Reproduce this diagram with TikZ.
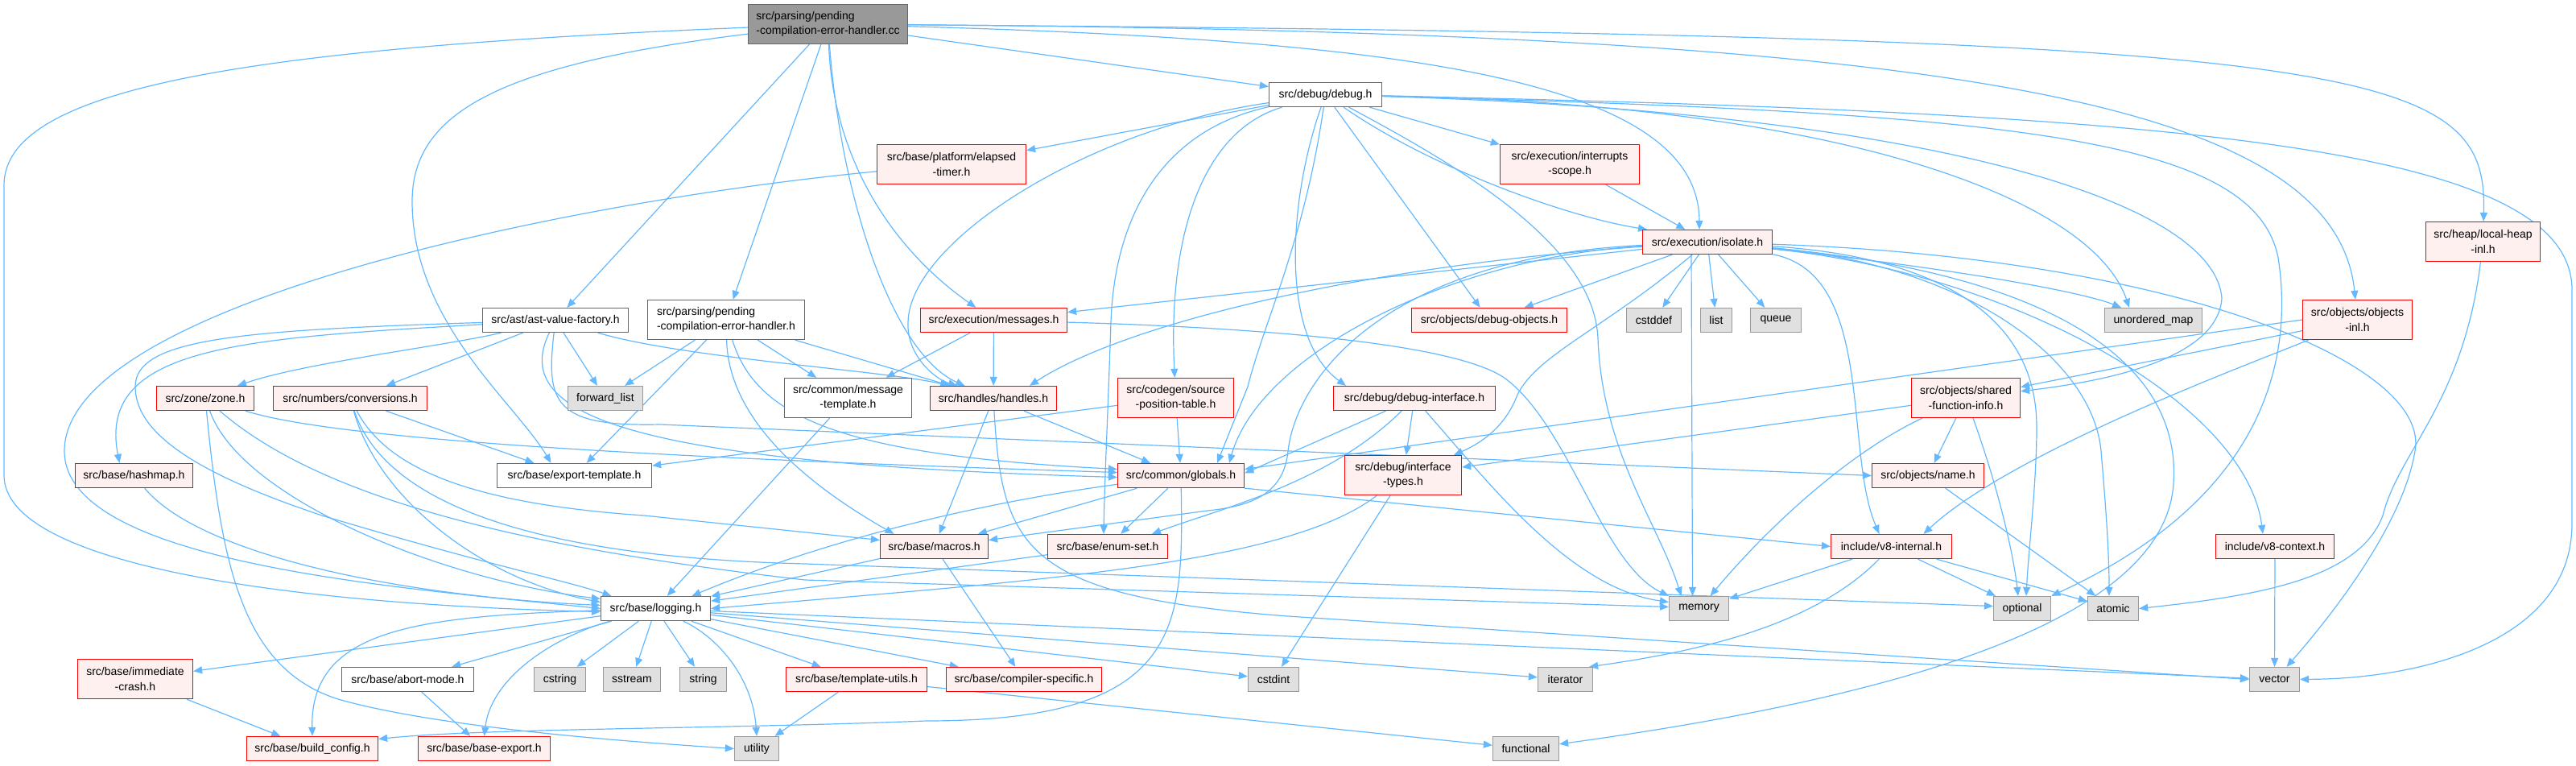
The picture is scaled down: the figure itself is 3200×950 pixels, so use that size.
\documentclass[tikz,border=0pt]{standalone}
\usepackage{fontspec}
\setmainfont{Liberation Sans}
\usetikzlibrary{arrows.meta}
\pgfdeclarelayer{edges}
\pgfsetlayers{edges,main}
\definecolor{edgec}{HTML}{63B8FF}
\definecolor{rfill}{HTML}{FFF0F0}
\definecolor{redb}{HTML}{FF0000}
\definecolor{gfill}{HTML}{E0E0E0}
\definecolor{gbord}{HTML}{999999}
\definecolor{wbord}{HTML}{666666}
\definecolor{rootfill}{HTML}{999999}
\begin{document}
\begin{tikzpicture}[x=1pt,y=-1pt,
 base/.style={draw,line width=1.3pt,inner sep=0pt,minimum height=30,font=\fontsize{14}{18.7}\selectfont,text=black},
 rnode/.style={base,draw=redb,fill=rfill},
 wnode/.style={base,draw=wbord,fill=white},
 gnode/.style={base,draw=gbord,fill=gfill},
 rootnode/.style={base,draw=wbord,fill=rootfill},
 tall/.style={minimum height=49},
 e/.style={draw=edgec,line width=1.2pt,-{Triangle[length=11pt,width=9pt]}}]
\useasboundingbox (0,0) rectangle (3200,950);

% ---------------- nodes ----------------
\node[rootnode,tall,minimum width=198,align=left] (R) at (1028.5,30) {src/parsing/pending\\-compilation-error-handler.cc};
\node[wnode,minimum width=140] (D) at (1646.5,117.5) {src/debug/debug.h};
\node[rnode,tall,minimum width=185,align=center] (ET) at (1182,204) {src/base/platform/elapsed\\-timer.h};
\node[rnode,tall,minimum width=173,align=center] (IS) at (1950,204) {src/execution/interrupts\\-scope.h};
\node[rnode,minimum width=161] (ISO) at (2121,300.5) {src/execution/isolate.h};
\node[rnode,tall,minimum width=142,align=center] (LH) at (3084.5,300) {src/heap/local-heap\\-inl.h};

\node[wnode,minimum width=181] (AST) at (690,397.5) {src/ast/ast-value-factory.h};
\node[wnode,tall,minimum width=195,align=left] (PEH) at (902,397) {src/parsing/pending\\-compilation-error-handler.h};
\node[rnode,minimum width=182] (MSG) at (1234.5,397.5) {src/execution/messages.h};
\node[rnode,minimum width=193] (DO) at (1850,397.5) {src/objects/debug-objects.h};
\node[gnode,minimum width=68] (CSTDDEF) at (2054.5,397.5) {cstddef};
\node[gnode,minimum width=39] (LIST) at (2132,397.5) {list};
\node[gnode,minimum width=63] (QUEUE) at (2206,397.5) {queue};
\node[gnode,minimum width=121] (UMAP) at (2675,397.5) {unordered\_map};
\node[rnode,tall,minimum width=136,align=center] (OI) at (2928.5,397) {src/objects/objects\\-inl.h};

\node[rnode,minimum width=121] (ZONE) at (255,494.5) {src/zone/zone.h};
\node[rnode,minimum width=191] (CONV) at (435,494.5) {src/numbers/conversions.h};
\node[gnode,minimum width=93] (FL) at (752,494.5) {forward\_list};
\node[wnode,tall,minimum width=158,align=center] (MT) at (1053.5,494) {src/common/message\\-template.h};
\node[rnode,minimum width=157] (HND) at (1234,494.5) {src/handles/handles.h};
\node[rnode,tall,minimum width=144,align=center] (SPT) at (1460.5,494) {src/codegen/source\\-position-table.h};
\node[rnode,minimum width=201] (DI) at (1757,494.5) {src/debug/debug-interface.h};
\node[rnode,tall,minimum width=135,align=center] (SFI) at (2442,494) {src/objects/shared\\-function-info.h};

\node[rnode,minimum width=146] (HM) at (166.5,590.5) {src/base/hashmap.h};
\node[wnode,minimum width=192] (EXT) at (713.5,590.5) {src/base/export-template.h};
\node[rnode,minimum width=157] (GLB) at (1467,590.5) {src/common/globals.h};
\node[rnode,tall,minimum width=145,align=center] (IT) at (1743,590) {src/debug/interface\\-types.h};
\node[rnode,minimum width=139] (NAME) at (2395,590.5) {src/objects/name.h};

\node[rnode,minimum width=134] (MAC) at (1160.5,678.5) {src/base/macros.h};
\node[rnode,minimum width=149] (ES) at (1376,678.5) {src/base/enum-set.h};
\node[rnode,minimum width=150] (V8I) at (2349.5,678.5) {include/v8-internal.h};
\node[rnode,minimum width=147] (V8C) at (2826,678.5) {include/v8-context.h};

\node[wnode,minimum width=136] (LOG) at (814.5,755.5) {src/base/logging.h};
\node[gnode,minimum width=74] (MEM) at (2110.5,755.5) {memory};
\node[gnode,minimum width=71] (OPT) at (2512,755.5) {optional};
\node[gnode,minimum width=63] (ATOM) at (2625,755.5) {atomic};

\node[rnode,tall,minimum width=143,align=center] (IC) at (168,843) {src/base/immediate\\-crash.h};
\node[wnode,minimum width=164] (AM) at (506.5,843.5) {src/base/abort-mode.h};
\node[gnode,minimum width=64] (CSTRING) at (695.5,843.5) {cstring};
\node[gnode,minimum width=71] (SSTREAM) at (785,843.5) {sstream};
\node[gnode,minimum width=58] (STRING) at (873.5,843.5) {string};
\node[rnode,minimum width=175] (TU) at (1064,843.5) {src/base/template-utils.h};
\node[rnode,minimum width=193] (CS) at (1272,843.5) {src/base/compiler-specific.h};
\node[gnode,minimum width=63] (CSTDINT) at (1582,843.5) {cstdint};
\node[gnode,minimum width=68] (ITER) at (1944.5,843.5) {iterator};
\node[gnode,minimum width=62] (VEC) at (2825.5,843.5) {vector};

\node[rnode,minimum width=163] (BC) at (388,929.5) {src/base/build\_config.h};
\node[rnode,minimum width=164] (BE) at (601.5,929.5) {src/base/base-export.h};
\node[gnode,minimum width=55] (UTIL) at (940,929.5) {utility};
\node[gnode,minimum width=82] (FUNC) at (1895.5,929.5) {functional};

% ---------------- edges ----------------
\begin{pgfonlayer}{edges}
% root
\draw[e] (R) -- (D);
\draw[e] (R) -- (AST);
\draw[e] (R) -- (PEH);
\draw[e] (R) .. controls (1035,200) and (1110,310) .. (MSG);
\draw[e] (R) .. controls (1045,250) and (1110,440) .. (HND);
\draw[e] (R) .. controls (1750,50) and (2110,100) .. ([xshift=-10]ISO.north);
\draw[e] (R) .. controls (2950,45) and (3090,80) .. (LH);
\draw[e] (R) .. controls (2400,40) and (2900,120) .. (OI);
\draw[e] (R) .. controls (620,80) and (512,140) .. (512,250) .. controls (512,400) and (640,500) .. ([xshift=-29]EXT.north);
\draw[e] (R) .. controls (300,60) and (5,110) .. (5,230) -- (5,590) .. controls (5,700) and (350,750) .. ([yshift=-4]LOG.west);
% debug.h
\draw[e] (D) -- (ET);
\draw[e] (D) -- (IS);
\draw[e] (D) .. controls (1780,210) and (1950,270) .. ([xshift=-75]ISO.north);
\draw[e] (D) -- (DO);
\draw[e] (D) .. controls (1600,250) and (1590,420) .. ([xshift=-85]DI.north);
\draw[e] (D) .. controls (1500,160) and (1450,280) .. (SPT);
\draw[e] (D) .. controls (1620,300) and (1570,400) .. (1550,480) -- ([xshift=45]GLB.north);
\draw[e] (D) .. controls (1450,160) and (1385,260) .. (1380,400) .. controls (1376,520) and (1372,600) .. ([xshift=-5]ES.north);
\draw[e] (D) .. controls (1350,160) and (1130,300) .. (1128,400) .. controls (1126,440) and (1160,470) .. ([xshift=-45]HND.north);
\draw[e] (D) .. controls (2300,130) and (2600,250) .. ([xshift=-30]UMAP.north);
\draw[e] (D) .. controls (2400,140) and (2750,250) .. (2760,370) .. controls (2755,450) and (2600,475) .. (SFI);
\draw[e] (D) .. controls (2500,140) and (2800,170) .. (2830,320) .. controls (2850,450) and (2810,620) .. (OPT.north east);
\draw[e] (D) .. controls (2700,140) and (3195,180) .. (3195,360) -- (3195,650) .. controls (3195,800) and (3000,843) .. (VEC);
\draw[e] (D) .. controls (1800,200) and (1980,300) .. (1985,420) .. controls (1990,560) and (2060,650) .. ([xshift=-22]MEM.north);
% elapsed timer, interrupts scope
\draw[e] (ET) .. controls (700,250) and (80,380) .. (80,560) .. controls (80,700) and (500,730) .. (LOG.west);
\draw[e] (IS) -- (ISO);
% isolate.h
\draw[e] (ISO) -- (CSTDDEF);
\draw[e] (ISO) -- (LIST);
\draw[e] (ISO) -- (QUEUE);
\draw[e] (ISO) -- (DO);
\draw[e] (ISO) -- (MSG);
\draw[e] (ISO) .. controls (1700,330) and (1400,400) .. ([xshift=45]HND.north);
\draw[e] (ISO) .. controls (1800,320) and (1565,440) .. ([xshift=60]GLB.north);
\draw[e] (ISO) .. controls (1990,410) and (1910,440) .. (1885,490) .. controls (1870,530) and (1840,550) .. ([xshift=-10]IT.north east);
\draw[e] (ISO) .. controls (1720,320) and (1610,470) .. (1600,560) .. controls (1595,610) and (1560,628) .. (1500,634) -- ([yshift=8]MAC.east);
\draw[e] ([xshift=-20]ISO.south) -- ([xshift=-8]MEM.north);
\draw[e] (ISO) .. controls (2400,330) and (2580,360) .. ([xshift=-40]UMAP.north);
\draw[e] (ISO) .. controls (2420,320) and (2530,400) .. (2530,530) .. controls (2530,600) and (2520,680) .. ([xshift=5]OPT.north);
\draw[e] (ISO) .. controls (2450,330) and (2600,450) .. (2610,560) .. controls (2615,620) and (2620,680) .. ([xshift=-5]ATOM.north);
\draw[e] (ISO) .. controls (2330,340) and (2290,560) .. ([xshift=-15]V8I.north);
\draw[e] (ISO) .. controls (2500,340) and (2790,500) .. ([xshift=-15]V8C.north);
\draw[e] (ISO) .. controls (2700,320) and (3020,450) .. (3000,560) .. controls (2985,650) and (2900,760) .. ([xshift=15]VEC.north);
\draw[e] (ISO) .. controls (2550,340) and (2710,450) .. (2700,600) .. controls (2690,760) and (2400,860) .. (FUNC);
% ast-value-factory.h
\draw[e] (AST) .. controls (550,430) and (380,450) .. ([xshift=40]ZONE.north);
\draw[e] (AST) -- ([xshift=45]CONV.north);
\draw[e] (AST) -- (FL);
\draw[e] (AST) .. controls (300,420) and (120,430) .. ([xshift=-18]HM.north);
\draw[e] (AST) .. controls (300,410) and (168,420) .. (168,480) .. controls (168,540) and (250,590) .. (400,640) .. controls (600,700) and (700,720) .. ([xshift=-55]LOG.north);
\draw[e] (AST) .. controls (630,520) and (800,575) .. ([yshift=-2]GLB.west);
\draw[e] (AST) .. controls (850,445) and (1100,460) .. ([xshift=-55]HND.north);
\draw[e] (AST) .. controls (678,500) and (688,530) .. (820,527) -- (NAME.west);
% pending-compilation-error-handler.h
\draw[e] (PEH) -- (FL);
\draw[e] (PEH) -- (EXT);
\draw[e] (PEH) .. controls (905,520) and (1000,600) .. ([xshift=-50]MAC.north);
\draw[e] (PEH) .. controls (940,520) and (1050,565) .. ([yshift=8]GLB.west);
\draw[e] (PEH) -- (MT);
\draw[e] (PEH) -- (HND);
% messages.h
\draw[e] (MSG) -- (MT);
\draw[e] (MSG) -- (HND);
\draw[e] (MSG) .. controls (1500,405) and (1800,420) .. (1870,470) .. controls (1950,530) and (1990,700) .. (MEM.north west);
% handles.h
\draw[e] (HND) -- (MAC);
\draw[e] (HND) -- (GLB);
\draw[e] (HND) .. controls (1245,680) and (1270,740) .. (1600,765) -- (VEC.west);
% message-template, source-position-table
\draw[e] (MT) -- (LOG);
\draw[e] (SPT) -- (EXT);
\draw[e] (SPT) -- (GLB);
% debug-interface.h
\draw[e] (DI) .. controls (1650,600) and (1520,630) .. ([xshift=55]ES.north);
\draw[e] (DI) -- (IT);
\draw[e] (DI) -- ([yshift=3]GLB.east);
\draw[e] (DI) .. controls (1850,600) and (1950,730) .. ([yshift=8]MEM.west);
% shared-function-info.h
\draw[e] (SFI) -- (NAME);
\draw[e] (SFI) -- (IT);
\draw[e] (SFI) .. controls (2300,560) and (2200,650) .. ([xshift=14]MEM.north);
\draw[e] (SFI) .. controls (2480,600) and (2500,680) .. ([xshift=-5]OPT.north);
% objects-inl.h, local-heap-inl.h
\draw[e] (OI) -- (SFI);
\draw[e] (OI.west) -- ([yshift=8]GLB.east);
\draw[e] (OI) .. controls (2800,450) and (2500,560) .. ([xshift=40]V8I.north);
\draw[e] (LH) .. controls (3060,500) and (2980,560) .. (2960,640) .. controls (2930,720) and (2800,740) .. (ATOM.east);
% zone.h
\draw[e] (ZONE) .. controls (400,540) and (700,565) .. ([yshift=4]GLB.west);
\draw[e] (ZONE) .. controls (300,620) and (550,720) .. ([yshift=12]LOG.west);
\draw[e] (ZONE) .. controls (400,620) and (650,680) .. (1000,720) -- ([yshift=2]MEM.west);
\draw[e] (ZONE) .. controls (275,700) and (300,830) .. (420,868) .. controls (550,905) and (800,922) .. (UTIL.west);
% conversions.h
\draw[e] (CONV) -- ([xshift=-50]EXT.north);
\draw[e] (CONV) .. controls (470,620) and (600,720) .. ([yshift=8]LOG.west);
\draw[e] (CONV) .. controls (480,580) and (580,625) .. (800,640) -- ([yshift=8]MAC.west);
\draw[e] (CONV) .. controls (470,600) and (600,690) .. (1000,700) -- ([yshift=3]OPT.west);
% hashmap.h
\draw[e] (HM) .. controls (250,690) and (500,740) .. ([yshift=4]LOG.west);
% globals.h
\draw[e] (GLB) .. controls (1250,620) and (1050,660) .. ([xshift=45]LOG.north);
\draw[e] (GLB) -- (MAC);
\draw[e] (GLB) -- (ES);
\draw[e] (GLB.south east) -- (V8I.west);
\draw[e] (GLB) .. controls (1470,780) and (1470,895) .. (1150,895) .. controls (900,905) and (600,904) .. ([yshift=12]BC.east);
% interface-types.h
\draw[e] (IT) .. controls (1600,700) and (1300,720) .. (LOG.east);
\draw[e] (IT) -- (CSTDINT);
% macros.h, enum-set.h
\draw[e] (MAC) -- (LOG);
\draw[e] (MAC) -- (CS);
\draw[e] (ES) -- (LOG);
% v8-internal.h, v8-context.h, name.h
\draw[e] (V8I) -- (MEM);
\draw[e] (V8I) -- (OPT);
\draw[e] (V8I) -- (ATOM);
\draw[e] (V8I) .. controls (2250,780) and (2100,810) .. ([xshift=-5]ITER.north east);
\draw[e] (V8C) -- (VEC);
\draw[e] (NAME) -- (ATOM);
% logging.h
\draw[e] (LOG) -- (IC);
\draw[e] (LOG) .. controls (520,765) and (385,780) .. (BC.north);
\draw[e] (LOG) -- (AM);
\draw[e] (LOG) .. controls (690,790) and (610,840) .. (BE.north);
\draw[e] (LOG) -- (CSTRING);
\draw[e] (LOG) -- (SSTREAM);
\draw[e] (LOG) -- (STRING);
\draw[e] (LOG) .. controls (890,790) and (935,840) .. (UTIL.north);
\draw[e] (LOG) -- (TU);
\draw[e] (LOG) -- (CS);
\draw[e] (LOG) -- (CSTDINT);
\draw[e] (LOG) -- (ITER);
\draw[e] (LOG) -- (VEC);
% bottom row
\draw[e] (IC) -- (BC);
\draw[e] (AM) -- (BE);
\draw[e] (TU) -- (UTIL);
\draw[e] (TU) -- (FUNC);
\end{pgfonlayer}
\end{tikzpicture}
\end{document}
